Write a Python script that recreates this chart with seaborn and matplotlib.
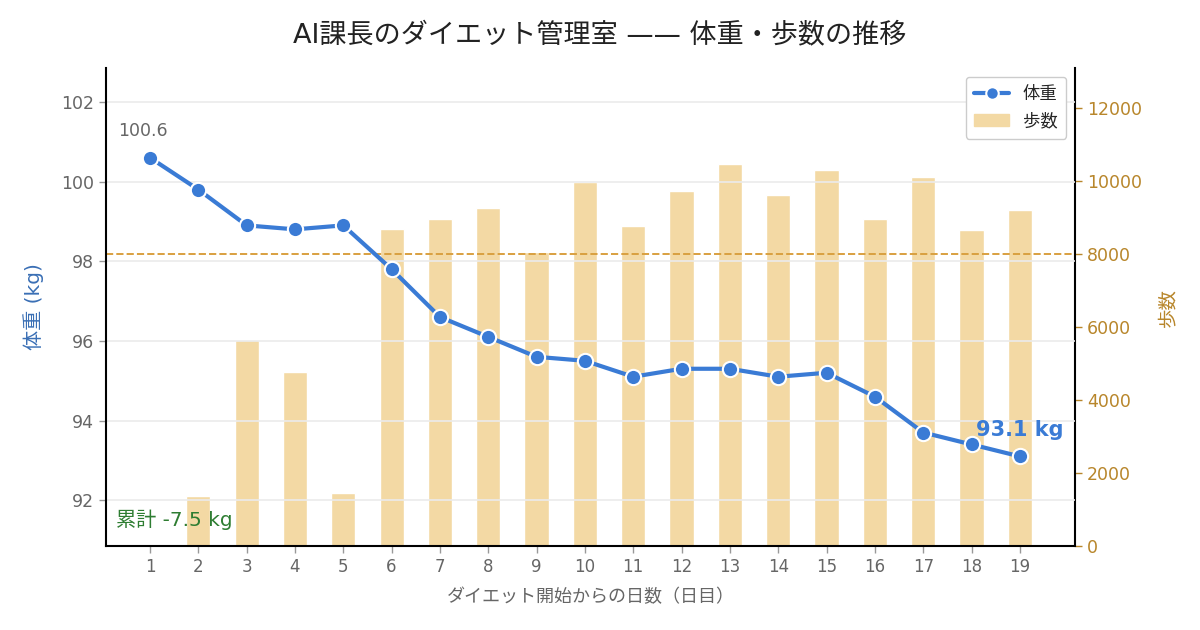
import matplotlib
matplotlib.use("Agg")
import matplotlib.pyplot as plt
import seaborn as sns
import pandas as pd
from matplotlib.lines import Line2D
from matplotlib.patches import Patch

days = list(range(1, 20))
weight = [100.6, 99.8, 98.9, 98.8, 98.9, 97.8, 96.6, 96.1, 95.6, 95.5,
          95.1, 95.3, 95.3, 95.1, 95.2, 94.6, 93.7, 93.4, 93.1]
steps = [0, 1370, 5650, 4770, 1450, 8700, 8970, 9260, 8050, 9970,
         8770, 9730, 10460, 9620, 10300, 8970, 10110, 8660, 9200]
step_goal = 8000
title = "AI課長のダイエット管理室 —— 体重・歩数の推移"
xlabel = "ダイエット開始からの日数（日目）"
ylabel_left = "体重 (kg)"
ylabel_right = "歩数"
weight_ticks = [92, 94, 96, 98, 100, 102]
step_ticks = [0, 2000, 4000, 6000, 8000, 10000, 12000]

sns.set_theme(style="white")
plt.rcParams['font.family'] = ['DejaVu Sans', 'Noto Sans CJK JP']

df = pd.DataFrame({"day": days, "weight": weight, "steps": steps})

LINE = "#3a7bd5"
BAR = "#f3d9a4"
GOLD = "#b8862b"
GRAY = "#666666"

fig = plt.figure(figsize=(12, 6.3), dpi=100)
ax = fig.add_axes([0.0883, 0.1333, 0.8075, 0.7587])
ax2 = ax.twinx()

sns.barplot(data=df, x="day", y="steps", native_scale=True, width=0.5,
            color=BAR, saturation=1, ax=ax2, zorder=1)
ax2.axhline(step_goal, color="#d9a040", linestyle="--", linewidth=1.4, zorder=2)

ax.set_zorder(ax2.get_zorder() + 1)
ax.patch.set_visible(False)
sns.lineplot(data=df, x="day", y="weight", ax=ax, color=LINE, linewidth=3,
             marker="o", markersize=11, markeredgecolor="white",
             markeredgewidth=1.5, zorder=5)

ax.set_xlim(0.09, 20.14)
ax.set_ylim(90.85, 102.85)
ax2.set_ylim(0, 13100)
ax.set_xticks(days)
ax.set_xticklabels([str(d) for d in days])
ax.set_yticks(weight_ticks)
ax2.set_yticks(step_ticks)

ax.grid(axis="y", color="#ebebeb", linewidth=1.2)
ax.grid(axis="x", visible=False)
ax2.grid(False)

for a in (ax, ax2):
    a.spines["top"].set_visible(False)
    for s in ("left", "right", "bottom"):
        a.spines[s].set_color("black")
        a.spines[s].set_linewidth(1.5)
ax.spines["right"].set_visible(False)
ax2.spines["left"].set_visible(False)
ax2.spines["bottom"].set_visible(False)

ax.tick_params(axis="x", colors=GRAY, labelsize=12, length=5, width=1, bottom=True)
ax.tick_params(axis="y", colors=GRAY, labelsize=12.5, length=5, width=1, left=True)
ax.tick_params(axis="x", color="#999999")
ax.tick_params(axis="y", color="#999999")
ax2.tick_params(axis="y", colors=GOLD, labelsize=12.5, length=5, width=1, right=True)

ax.set_xlabel(xlabel, color=GRAY, fontsize=13, labelpad=9)
ax.set_ylabel(ylabel_left, color="#3a6fb5", fontsize=14.5, labelpad=12)
ax2.set_ylabel(ylabel_right, color=GOLD, fontsize=14, labelpad=12)

fig.suptitle(title, fontsize=19.5, color="#222222", y=0.963)

ax.annotate(f"{weight[0]:.1f}", (days[0], weight[0]), xytext=(-5, 13),
            textcoords="offset points", ha="center", va="bottom",
            color=GRAY, fontsize=12.5)
ax.annotate(f"{weight[-1]:.1f} kg", (days[-1], weight[-1]), xytext=(0, 12),
            textcoords="offset points", ha="center", va="bottom",
            color=LINE, fontsize=15, fontweight="bold")
ax.text(0.01, 0.033, f"累計 {weight[-1] - weight[0]:.1f} kg", transform=ax.transAxes,
        color="#2e7d32", fontsize=14.5, ha="left", va="bottom")

handles = [Line2D([0], [0], color=LINE, linewidth=3, marker="o", markersize=9,
                  markeredgecolor="white", markeredgewidth=1.5),
           Patch(facecolor=BAR, edgecolor=BAR)]
ax.legend(handles, ["体重", "歩数"], loc="upper right", fontsize=12.5,
          frameon=True, framealpha=1, edgecolor="#cccccc", borderpad=0.5)

fig.savefig("out.png", dpi=100)
